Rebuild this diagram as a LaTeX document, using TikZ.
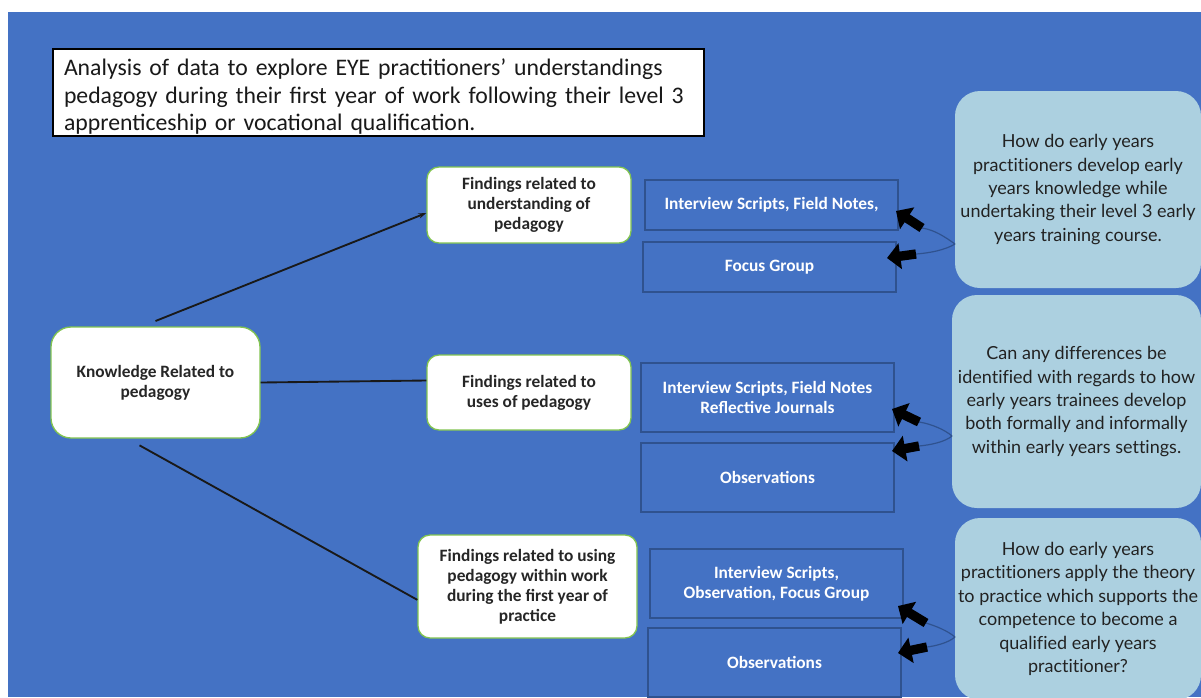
\documentclass[tikz,border=0pt]{standalone}
\usepackage{fontspec}
\setmainfont{Carlito}
\newfontfamily\qfont[Ligatures=NoCommon]{Lato}
\usetikzlibrary{arrows.meta}
\definecolor{bgblue}{RGB}{68,114,196}
\definecolor{edgeblue}{RGB}{47,82,143}
\definecolor{qblue}{RGB}{172,208,224}
\definecolor{lgreen}{RGB}{130,196,80}
\definecolor{qtext}{RGB}{34,34,34}
\tikzset{
  titlebox/.style={draw=black, line width=1.5pt, fill=white, anchor=north west,
    text width=471.75pt, inner xsep=8.25pt, inner ysep=0pt, minimum height=65.25pt,
    align=left, text=black!90, font=\fontsize{17.8}{20.5}\selectfont},
  findbox/.style={draw=lgreen, line width=1pt, fill=white, rounded corners=9pt,
    inner sep=0pt, align=center, text=black!85, font=\bfseries\fontsize{13}{15}\selectfont},
  srcbox/.style={draw=edgeblue, line width=1pt, fill=bgblue, inner sep=0pt,
    minimum width=189.75pt, align=center, text=white, font=\bfseries\fontsize{13}{15}\selectfont},
  qbox/.style={fill=qblue, rounded corners=18.75pt, inner sep=0pt, align=center,
    text=qtext, font=\qfont\fontsize{13.5}{17.6}\selectfont},
  link/.style={draw=black!90, line width=1.4pt},
  thin/.style={draw=edgeblue, line width=0.9pt},
  fat/.style={draw=black, line width=7pt, -{Triangle[length=10pt,width=19pt]}}
}
\begin{document}
\begin{tikzpicture}[x=0.75pt,y=-0.75pt]
\useasboundingbox (0,0) rectangle (1201,697);
\fill[white] (0,0) rectangle (1201,697);
\fill[bgblue] (8,12) rectangle (1201,697);
\begin{scope}
\clip (0,0) rectangle (1201,697);

\node[titlebox] (title) at (52,48) {\rule{0pt}{19pt}Analysis of data to explore EYE practitioners’ understandings\\pedagogy during their first year of work following their level 3\\apprenticeship or vocational qualification.};

\node[findbox, rounded corners=15pt, minimum width=156.75pt, minimum height=83.25pt] (know) at (155.5,382.5) {Knowledge Related to\\pedagogy};

\node[findbox, minimum width=153pt, minimum height=57pt] (f1) at (529,205) {Findings related to\\understanding of\\pedagogy};
\node[findbox, minimum width=153pt, minimum height=56.25pt] (f2) at (529,392.5) {Findings related to\\uses of pedagogy};
\node[findbox, minimum width=164.25pt, minimum height=77.25pt] (f3) at (527.5,586.5) {Findings related to using\\pedagogy within work\\during the first year of\\practice};

\node[srcbox, minimum height=37.5pt] (s1a) at (771.5,205) {Interview Scripts, Field Notes,};
\node[srcbox, minimum height=37.5pt] (s1b) at (769.5,267) {Focus Group};
\node[srcbox, minimum height=51.75pt] (s2a) at (767.5,397.5) {Interview Scripts, Field Notes\\Reflective Journals};
\node[srcbox, minimum height=51.75pt] (s2b) at (767.5,477.5) {Observations};
\node[srcbox, minimum height=51.75pt] (s3a) at (776.5,583.5) {Interview Scripts,\\Observation, Focus Group};
\node[srcbox, minimum height=51.75pt] (s3b) at (774.5,662.5) {Observations};

\node[qbox, minimum width=184.5pt, minimum height=147.75pt] (q1) at (1078,189.5) {How do early years\\practitioners develop early\\years knowledge while\\undertaking their level 3 early\\years training course.};
\node[qbox, minimum width=186.75pt, minimum height=159.75pt] (q2) at (1076.5,401.5) {Can any differences be\\identified with regards to how\\early years trainees develop\\both formally and informally\\within early years settings.};
\node[qbox, minimum width=184.5pt, minimum height=136.5pt] (q3) at (1078,609) {How do early years\\practitioners apply the theory\\to practice which supports the\\competence to become a\\qualified early years\\practitioner?};

% main connectors
\draw[link, -{Stealth[length=6pt,width=4pt]}] ([yshift=4pt]know.north) -- ([yshift=-6pt]f1.west);
\draw[link] (know.east) -- ([yshift=9pt]f2.west);
\draw[link] ([xshift=-12pt,yshift=-5pt]know.south) -- ([yshift=-10pt]f3.west);

% question feedback arrows
\coordinate (c1) at (955,244);
\coordinate (t1a) at (922,228); \coordinate (h1a) at (896,211);
\coordinate (t1b) at (916,254); \coordinate (h1b) at (887,258);
\draw[thin] (c1) .. controls (945,237) and (935,230) .. (t1a);
\draw[thin] (c1) .. controls (945,250) and (930,253) .. (t1b);
\draw[fat] (t1a) -- (h1a);
\draw[fat] (t1b) -- (h1b);

\coordinate (c2) at (952,436);
\coordinate (t2a) at (919,422); \coordinate (h2a) at (892,409);
\coordinate (t2b) at (919,446); \coordinate (h2b) at (892,451);
\draw[thin] (c2) .. controls (945,430) and (932,424) .. (t2a);
\draw[thin] (c2) .. controls (945,442) and (930,445) .. (t2b);
\draw[fat] (t2a) -- (h2a);
\draw[fat] (t2b) -- (h2b);

\coordinate (c3) at (955,637);
\coordinate (t3a) at (926,623); \coordinate (h3a) at (898,606);
\coordinate (t3b) at (927,647); \coordinate (h3b) at (898,653);
\draw[thin] (c3) .. controls (948,631) and (936,626) .. (t3a);
\draw[thin] (c3) .. controls (948,643) and (935,646) .. (t3b);
\draw[fat] (t3a) -- (h3a);
\draw[fat] (t3b) -- (h3b);
\end{scope}
\end{tikzpicture}
\end{document}
